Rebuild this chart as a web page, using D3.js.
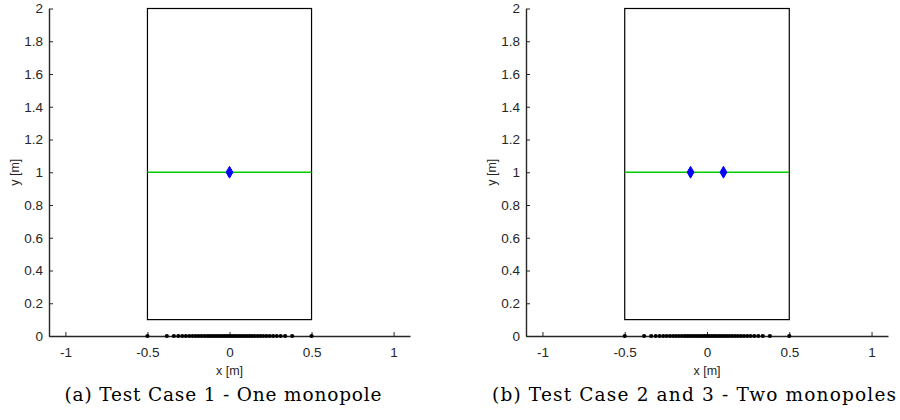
<!DOCTYPE html>
<html>
<head>
<meta charset="utf-8">
<script src="https://cdn.jsdelivr.net/npm/d3@7"></script>
<style>
  body { margin: 0; background: #fff; }
  .tick text { font-family: "Liberation Sans", Arial, sans-serif; font-size: 13.5px; fill: #262626; }
  .axis path, .axis line { stroke: #262626; }
</style>
</head>
<body>
<script>
'use strict';

// 数据
const xTicks = [-1, -0.5, 0, 0.5, 1];
const yTicks = [0, 0.2, 0.4, 0.6, 0.8, 1, 1.2, 1.4, 1.6, 1.8, 2];
const roomX = [-0.5, 0.5];
const roomY = [0.1, 2];
const lineY = 1;
const micX = [-0.5, -0.382, -0.339, -0.312, -0.288, -0.266, -0.245, -0.225, -0.206, -0.188,
  -0.171, -0.153, -0.136, -0.121, -0.106, -0.09, -0.075, -0.06, -0.045, -0.03, -0.015, 0,
  0.015, 0.03, 0.045, 0.06, 0.075, 0.09, 0.106, 0.121, 0.136, 0.153, 0.171, 0.188, 0.206,
  0.225, 0.245, 0.266, 0.288, 0.312, 0.339, 0.382, 0.5];
const sourcesA = [0];
const sourcesB = [-0.1, 0.1];
const captions = ['(a) Test Case 1 - One monopole', '(b) Test Case 2 and 3 - Two monopoles'];

const svg = d3.select('body').append('svg')
  .attr('width', 900)
  .attr('height', 420);

// 每个子图的位置
const panels = [
  {left: 49, right: 410, sources: sourcesA, caption: captions[0], capX: 223, capW: 317},
  {left: 526, right: 888, sources: sourcesB, caption: captions[1], capX: 694, capW: 404}
];

const fmt = d => String(d);

panels.forEach(p => {
  const x = d3.scaleLinear().domain([-1.1, 1.1]).range([p.left, p.right]);
  const y = d3.scaleLinear().domain([0, 2]).range([336, 8.5]);

  const g = svg.append('g');

  // 坐标轴
  g.append('g')
    .attr('class', 'axis')
    .attr('transform', 'translate(0,336)')
    .call(d3.axisBottom(x).tickValues(xTicks).tickSizeInner(-4).tickSizeOuter(0).tickPadding(11).tickFormat(fmt))
    .call(a => a.select('.domain').attr('stroke-width', 1.4));

  g.append('g')
    .attr('class', 'axis')
    .attr('transform', 'translate(' + p.left + ',0)')
    .call(d3.axisLeft(y).tickValues(yTicks).tickSizeInner(-4).tickSizeOuter(0).tickPadding(6).tickFormat(fmt))
    .call(a => a.select('.domain').attr('stroke-width', 1.4).attr('stroke', '#555'));

  // 房间边框
  g.append('rect')
    .attr('x', x(roomX[0]))
    .attr('y', y(roomY[1]))
    .attr('width', x(roomX[1]) - x(roomX[0]))
    .attr('height', y(roomY[0]) - y(roomY[1]))
    .attr('fill', 'none')
    .attr('stroke', '#000')
    .attr('stroke-width', 1.2);

  // 绿线
  g.append('line')
    .attr('x1', x(roomX[0]))
    .attr('x2', x(roomX[1]))
    .attr('y1', y(lineY))
    .attr('y2', y(lineY))
    .attr('stroke', '#00cc00')
    .attr('stroke-width', 1.5);

  // 麦克风
  g.selectAll('circle.mic')
    .data(micX)
    .enter()
    .append('circle')
    .attr('class', 'mic')
    .attr('cx', d => x(d))
    .attr('cy', y(0))
    .attr('r', 2.1)
    .attr('fill', '#000');

  // 声源
  g.selectAll('path.src')
    .data(p.sources)
    .enter()
    .append('path')
    .attr('class', 'src')
    .attr('transform', d => 'translate(' + x(d) + ',' + y(lineY) + ')')
    .attr('d', d3.symbol().type(d3.symbolDiamond).size(40))
    .attr('fill', '#0000ff')
    .attr('stroke', '#0000ff');

  // 轴标签
  g.append('text')
    .attr('x', x(0))
    .attr('y', 375)
    .attr('text-anchor', 'middle')
    .style('font-family', '"Liberation Sans", Arial, sans-serif')
    .style('font-size', '12.5px')
    .attr('fill', '#262626')
    .text('x [m]');

  g.append('text')
    .attr('transform', 'translate(' + (p.left - 30) + ',' + y(1) + ') rotate(-90)')
    .attr('text-anchor', 'middle')
    .style('font-family', '"Liberation Sans", Arial, sans-serif')
    .style('font-size', '12.5px')
    .attr('fill', '#262626')
    .text('y [m]');

  // 图题
  g.append('text')
    .attr('x', p.capX)
    .attr('y', 401)
    .attr('text-anchor', 'middle')
    .attr('textLength', p.capW)
    .attr('lengthAdjust', 'spacing')
    .style('font-family', '"DejaVu Serif", serif')
    .style('font-size', '18.5px')
    .attr('fill', '#000')
    .text(p.caption);
});
</script>
</body>
</html>
